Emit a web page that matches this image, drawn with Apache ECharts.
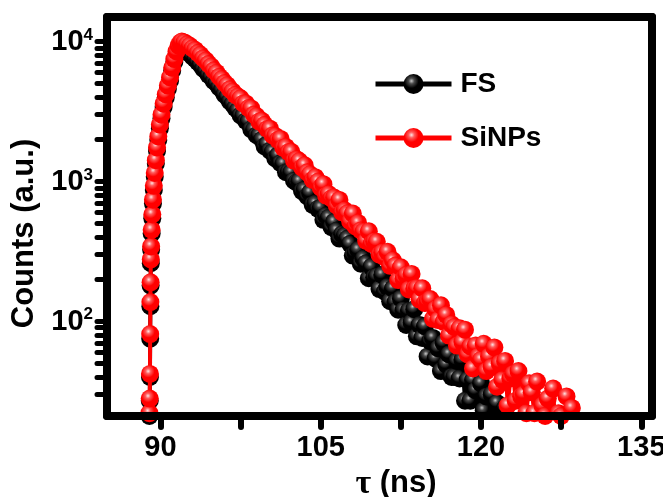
<!DOCTYPE html>
<html><head><meta charset="utf-8">
<script src="https://cdn.jsdelivr.net/npm/echarts@6/dist/echarts.min.js"></script>
<style>html,body{margin:0;padding:0;background:#fff}#c{width:663px;height:497px}</style>
</head><body><div id="c"></div>
<script>
// ---- data ----
const seriesNames = ['FS', 'SiNPs'];
const times = [88.9, 88.97, 89.0, 89.02, 89.04, 89.06, 89.08, 89.1, 89.13, 89.18,
  89.24, 89.3, 89.38, 89.47, 89.57, 89.68, 89.8, 89.95, 90.1, 90.3,
  90.5, 90.7, 90.9, 91.1, 91.3, 91.5, 91.7, 91.85, 92.0,
  92.25, 92.5, 92.75, 93.0, 93.25, 93.5, 93.75, 94.0, 94.25, 94.5, 94.75, 95.0,
  95.25, 95.5, 95.75, 96.0, 96.25, 96.5, 96.75, 97.0, 97.25, 97.5, 97.75, 98.0,
  98.25, 98.5, 98.75, 99.0, 99.25, 99.5, 99.75, 100.0, 100.25, 100.5, 100.75, 101.0,
  101.25, 101.5, 101.75, 102.0, 102.25, 102.5, 102.75, 103.0, 103.25, 103.5, 103.75, 104.0,
  104.25, 104.5, 104.75, 105.0, 105.25, 105.5, 105.75, 106.0, 106.25, 106.5, 106.75, 107.0,
  107.25, 107.5, 107.75, 108.0, 108.25, 108.5, 108.75, 109.0, 109.25, 109.5, 109.75, 110.0,
  110.25, 110.5, 110.75, 111.0, 111.25, 111.5, 111.75, 112.0, 112.25, 112.5, 112.75, 113.0,
  113.25, 113.5, 113.75, 114.0, 114.25, 114.5, 114.75, 115.0, 115.25, 115.5, 115.75, 116.0,
  116.25, 116.5, 116.75, 117.0, 117.25, 117.5, 117.75, 118.0, 118.25, 118.5, 118.75, 119.0,
  119.25, 119.5, 119.75, 120.0, 120.25, 120.5, 120.75, 121.0, 121.25, 121.5, 121.75, 122.0,
  122.25, 122.5, 122.75, 123.0, 123.25, 123.5, 123.75, 124.0, 124.25, 124.5, 124.75, 125.0,
  125.25, 125.5, 125.75, 126.0, 126.25, 126.5, 126.75, 127.0, 127.25, 127.5, 127.75, 128.0,
  128.25, 128.5, 128.75, 129.0, 129.25, 129.5, 129.75, 130.0, 130.25, 130.5];

const fsCounts = [10, 21, 27, 40, 75, 128, 180, 260, 325, 425,
  545, 695, 870, 1080, 1340, 1650, 1980, 2400, 2830, 3400,
  3980, 4600, 5250, 6200, 7150, 8050, 8800, 9250, 9150,
  8870, 8450, 8190, 7800, 7540, 7160, 6850, 6420, 6190, 5770, 5590, 5210,
  5040, 4710, 4520, 4180, 4030, 3740, 3590, 3360, 3220, 2970, 2940, 2705,
  2690, 2360, 2342, 2142, 2132, 1988, 1784, 1844, 1659, 1630, 1461, 1537,
  1350, 1336, 1163, 1169, 1160, 1013, 985, 1001, 854, 873, 781, 830,
  680, 695, 637, 648, 531, 569, 550, 472, 513, 445, 390, 419,
  410, 390, 358, 295, 308, 324, 258, 281, 260, 203, 245, 206,
  209, 170, 215, 163, 176, 139, 171, 137, 121, 145, 120, 94,
  119, 98, 122, 78, 94, 76, 92, 56, 72, 76, 54, 64,
  44, 70, 49, 58, 40, 40, 52, 39, 53, 27, 38, 27,
  38, 32, 18, 36, 23, 29, 17, 30, 20, 26, 13, 19,
  24, 12, 15, 11];

const siCounts = [12, 22, 28, 42, 81, 137, 190, 277, 343, 450,
  580, 740, 930, 1150, 1420, 1750, 2100, 2550, 3000, 3600,
  4200, 4850, 5550, 6500, 7500, 8500, 9350, 9800, 10000,
  9870, 9560, 9340, 8960, 8720, 8310, 8050, 7610, 7340, 6920, 6650, 6230,
  5990, 5610, 5400, 5060, 4880, 4570, 4400, 4160, 4050, 3930, 3610, 3615,
  3350, 3330, 3005, 2935, 2680, 2715, 2540, 2375, 2382, 2133, 2115, 1983,
  2015, 1740, 1766, 1622, 1628, 1408, 1442, 1399, 1256, 1305, 1162, 1125,
  1025, 1072, 999, 901, 956, 792, 812, 757, 767, 671, 738, 601,
  621, 593, 520, 589, 477, 505, 446, 438, 376, 440, 357, 372,
  370, 299, 310, 286, 314, 249, 273, 250, 197, 243, 202, 214,
  169, 218, 171, 173, 143, 172, 135, 138, 144, 104, 122, 102,
  130, 99, 111, 79, 95, 91, 67, 89, 71, 87, 58, 66,
  46, 67, 56, 53, 69, 44, 56, 47, 65, 34, 50, 38,
  52, 25, 39, 42, 27, 44, 29, 30, 22, 36, 31, 22,
  37, 15, 25, 21, 28, 16, 33, 14, 22, 21, 13, 29,
  12, 24, 15, 16, 10, 19, 12, 14, 9, 11];

const xLabelValues = [90, 105, 120, 135];
const xTickValues = [90, 97.5, 105, 112.5, 120, 127.5, 135];
const yLabelValues = [100, 1000, 10000];
const yTickValues = [30, 40, 50, 60, 70, 80, 90, 100, 200, 300, 400, 500, 600, 700, 800, 900,
  1000, 2000, 3000, 4000, 5000, 6000, 7000, 8000, 9000, 10000];

// ---- chart ----
const F = '"Liberation Sans", Arial, sans-serif';
function pairs(t, c) {
  const out = [];
  const n = Math.min(t.length, c.length);
  for (let i = 0; i < n; i++) out.push([t[i], c[i]]);
  return out;
}
function ball(hi, mid, base) {
  return { type: 'radial', x: 0.4, y: 0.35, r: 0.65,
    colorStops: [{ offset: 0, color: hi }, { offset: 0.22, color: mid },
                 { offset: 0.55, color: base }, { offset: 1, color: base }] };
}
function frameLine() { return { show: true, onZero: false, lineStyle: { color: '#000', width: 8, cap: 'round' } }; }
const chart = echarts.init(document.getElementById('c'), null, { renderer: 'canvas' });
chart.setOption({
  animation: false,
  backgroundColor: '#fff',
  grid: { left: 107, right: 11, top: 17, bottom: 81, outerBoundsMode: 'none' },
  legend: {
    orient: 'vertical', left: 368, top: 65, itemWidth: 76, itemHeight: 25, itemGap: 26,
    data: seriesNames,
    lineStyle: { width: 5 },
    textStyle: { fontSize: 28, fontWeight: 'bold', color: '#000', fontFamily: F, padding: [0, 0, 0, 4] }
  },
  xAxis: [{
    type: 'value', min: 85, max: 136, position: 'bottom', z: 10,
    axisLine: frameLine(),
    axisTick: { show: true, inside: false, length: 11, customValues: xTickValues,
      lineStyle: { color: '#000', width: 6, cap: 'round' } },
    axisLabel: { customValues: xLabelValues, fontSize: 29, fontWeight: 'bold', color: '#000',
      fontFamily: F, margin: 17 },
    splitLine: { show: false },
    name: '{t|τ} (ns)', nameLocation: 'middle', nameGap: 46,
    nameTextStyle: { fontSize: 31, fontWeight: 'bold', color: '#000', fontFamily: F,
      padding: [0, 0, 0, 33],
      rich: { t: { fontSize: 34, fontFamily: '"Liberation Serif", serif', fontWeight: 'bold', color: '#000' } } }
  }, {
    type: 'value', min: 85, max: 136, position: 'top', z: 10,
    axisLine: frameLine(), axisTick: { show: false }, axisLabel: { show: false }, splitLine: { show: false }
  }],
  yAxis: [{
    type: 'log', logBase: 10, min: 21, max: 15000, position: 'left', z: 10,
    axisLine: frameLine(),
    axisTick: { show: true, inside: false, length: 10, customValues: yTickValues,
      lineStyle: { color: '#000', width: 5, cap: 'round' } },
    axisLabel: {
      customValues: yLabelValues, margin: 14,
      formatter: function (v) { return '{b|10}{s|' + Math.round(Math.log10(v)) + '}'; },
      rich: {
        b: { fontSize: 29, fontWeight: 'bold', fontFamily: F, color: '#000', lineHeight: 30, verticalAlign: 'bottom' },
        s: { fontSize: 17, fontWeight: 'bold', fontFamily: F, color: '#000', lineHeight: 17, verticalAlign: 'top' }
      }
    },
    splitLine: { show: false }, minorTick: { show: false },
    name: 'Counts (a.u.)', nameLocation: 'middle', nameGap: 65, nameRotate: 90,
    nameTextStyle: { fontSize: 31, fontWeight: 'bold', color: '#000', fontFamily: F, padding: [0, 34, 0, 0] }
  }, {
    type: 'log', logBase: 10, min: 21, max: 15000, position: 'right', z: 10,
    axisLine: frameLine(), axisTick: { show: false }, axisLabel: { show: false }, splitLine: { show: false }
  }],
  series: [{
    name: seriesNames[0], type: 'line', xAxisIndex: 0, yAxisIndex: 0,
    data: pairs(times, fsCounts),
    symbol: 'circle', symbolSize: 18, showSymbol: true, showAllSymbol: true,
    itemStyle: { color: ball('#c8c8c8', '#4a4a4a', '#000000') },
    lineStyle: { color: '#000', width: 4 },
    emphasis: { disabled: true }, z: 2
  }, {
    name: seriesNames[1], type: 'line', xAxisIndex: 0, yAxisIndex: 0,
    data: pairs(times, siCounts),
    symbol: 'circle', symbolSize: 18, showSymbol: true, showAllSymbol: true,
    itemStyle: { color: ball('#ffe4e4', '#ff5c5c', '#ff0000') },
    lineStyle: { color: '#ff0000', width: 4 },
    emphasis: { disabled: true }, z: 3
  }]
});
</script>
</body></html>
